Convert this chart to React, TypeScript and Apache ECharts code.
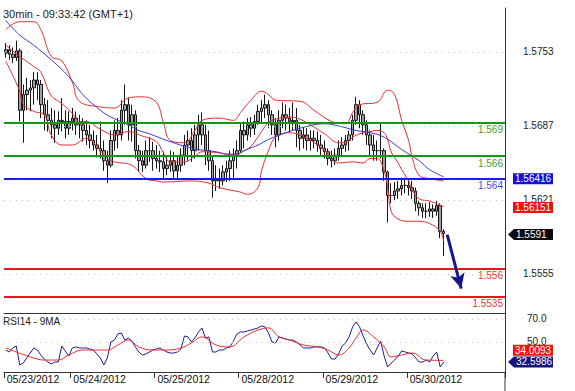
import React, { useEffect, useRef } from 'react';
import * as echarts from 'echarts';

const chartTitle = '30min - 09:33:42 (GMT+1)';
const rsiTitle = 'RSI14 - 9MA';

const dayLabels = ['05/23/2012', '05/24/2012', '05/25/2012', '05/28/2012', '05/29/2012', '05/30/2012'];
const dayStartIndex = [0, 19, 43, 67, 91, 115];
const slotCount = 143;

const opens = [1.5752,1.5755,1.5751,1.5748,1.5754,1.5701,1.5715,1.5719,1.5721,1.5728,
 1.5724,1.5706,1.5697,1.5692,1.5688,1.5685,1.5692,1.5691,1.5685,1.5691,
 1.5694,1.5688,1.5688,1.5683,1.5679,1.5674,1.5670,1.5667,1.5665,1.5656,
 1.5652,1.5674,1.5683,1.5679,1.5701,1.5706,1.5688,1.5697,1.5665,1.5656,
 1.5652,1.5665,1.5665,1.5658,1.5656,1.5655,1.5649,1.5652,1.5656,1.5647,
 1.5652,1.5661,1.5670,1.5674,1.5665,1.5679,1.5688,1.5679,1.5665,1.5656,
 1.5638,1.5640,1.5638,1.5646,1.5649,1.5656,1.5661,1.5665,1.5683,1.5679,
 1.5688,1.5685,1.5691,1.5700,1.5703,1.5706,1.5697,1.5688,1.5679,1.5692,
 1.5697,1.5694,1.5691,1.5692,1.5683,1.5676,1.5679,1.5674,1.5676,1.5674,
 1.5670,1.5667,1.5664,1.5658,1.5656,1.5661,1.5667,1.5670,1.5674,1.5679,
 1.5692,1.5706,1.5697,1.5688,1.5679,1.5670,1.5665,1.5665,1.5665,1.5646,
 1.5625,1.5625,1.5629,1.5631,1.5634,1.5634,1.5632,1.5629,1.5618,1.5614,
 1.5611,1.5611,1.5613,1.5611,1.5616,1.5593];

const highs = [1.5761,1.5759,1.5757,1.5763,1.5756,1.5724,1.5730,1.5728,1.5735,1.5735,
 1.5728,1.5712,1.5710,1.5703,1.5701,1.5700,1.5712,1.5701,1.5700,1.5703,
 1.5700,1.5697,1.5694,1.5692,1.5688,1.5683,1.5679,1.5691,1.5674,1.5665,
 1.5683,1.5692,1.5694,1.5710,1.5724,1.5712,1.5706,1.5701,1.5670,1.5665,
 1.5674,1.5677,1.5673,1.5670,1.5665,1.5664,1.5661,1.5665,1.5664,1.5661,
 1.5667,1.5679,1.5683,1.5685,1.5688,1.5697,1.5699,1.5688,1.5683,1.5661,
 1.5652,1.5649,1.5652,1.5656,1.5665,1.5667,1.5674,1.5690,1.5691,1.5694,
 1.5695,1.5697,1.5706,1.5710,1.5715,1.5710,1.5701,1.5694,1.5701,1.5708,
 1.5706,1.5703,1.5708,1.5703,1.5688,1.5686,1.5685,1.5683,1.5683,1.5682,
 1.5679,1.5674,1.5667,1.5665,1.5667,1.5674,1.5677,1.5679,1.5683,1.5697,
 1.5713,1.5710,1.5701,1.5692,1.5683,1.5679,1.5674,1.5690,1.5667,1.5647,
 1.5636,1.5637,1.5638,1.5641,1.5641,1.5640,1.5638,1.5632,1.5620,1.5618,
 1.5618,1.5619,1.5617,1.5620,1.5618,1.5595];

const lows = [1.5748,1.5746,1.5743,1.5745,1.5691,1.5672,1.5701,1.5700,1.5706,1.5710,
 1.5694,1.5683,1.5682,1.5676,1.5672,1.5679,1.5682,1.5676,1.5679,1.5683,
 1.5679,1.5676,1.5673,1.5670,1.5667,1.5665,1.5659,1.5658,1.5647,1.5636,
 1.5650,1.5665,1.5667,1.5674,1.5688,1.5674,1.5673,1.5658,1.5646,1.5646,
 1.5649,1.5655,1.5647,1.5649,1.5646,1.5640,1.5643,1.5646,1.5640,1.5640,
 1.5646,1.5652,1.5656,1.5655,1.5658,1.5665,1.5670,1.5652,1.5647,1.5623,
 1.5629,1.5631,1.5634,1.5637,1.5638,1.5640,1.5649,1.5663,1.5667,1.5674,
 1.5677,1.5679,1.5688,1.5690,1.5694,1.5685,1.5679,1.5668,1.5674,1.5685,
 1.5683,1.5681,1.5683,1.5668,1.5665,1.5667,1.5665,1.5665,1.5667,1.5664,
 1.5661,1.5658,1.5652,1.5650,1.5652,1.5656,1.5661,1.5664,1.5665,1.5674,
 1.5688,1.5685,1.5679,1.5670,1.5661,1.5656,1.5656,1.5658,1.5638,1.5601,
 1.5618,1.5620,1.5622,1.5625,1.5627,1.5625,1.5622,1.5611,1.5607,1.5605,
 1.5605,1.5606,1.5605,1.5607,1.5587,1.5571];

const closes = [1.5755,1.5751,1.5748,1.5754,1.5701,1.5715,1.5719,1.5721,1.5728,1.5724,
 1.5706,1.5697,1.5692,1.5688,1.5685,1.5692,1.5691,1.5685,1.5691,1.5694,
 1.5688,1.5688,1.5683,1.5679,1.5674,1.5670,1.5667,1.5665,1.5656,1.5652,
 1.5674,1.5683,1.5679,1.5701,1.5706,1.5688,1.5697,1.5665,1.5656,1.5652,
 1.5665,1.5665,1.5658,1.5656,1.5655,1.5649,1.5652,1.5656,1.5647,1.5652,
 1.5661,1.5670,1.5674,1.5665,1.5679,1.5688,1.5679,1.5665,1.5656,1.5638,
 1.5640,1.5638,1.5646,1.5649,1.5656,1.5661,1.5665,1.5683,1.5679,1.5688,
 1.5685,1.5691,1.5700,1.5703,1.5706,1.5697,1.5688,1.5679,1.5692,1.5697,
 1.5694,1.5691,1.5692,1.5683,1.5676,1.5679,1.5674,1.5676,1.5674,1.5670,
 1.5667,1.5664,1.5658,1.5656,1.5661,1.5667,1.5670,1.5674,1.5679,1.5692,
 1.5706,1.5697,1.5688,1.5679,1.5670,1.5665,1.5665,1.5665,1.5646,1.5625,
 1.5625,1.5629,1.5631,1.5634,1.5634,1.5632,1.5629,1.5618,1.5614,1.5611,
 1.5611,1.5613,1.5611,1.5616,1.5593,1.5591];

const upperBand = [[0,1.5773],[4,1.5780],[8,1.5780],[10,1.5773],[13,1.5749],[16,1.5745],[19,1.5726],[21,1.5709],[27,1.5704],[31,1.5703],[35,1.5712],[39,1.5713],[43,1.5708],[45,1.5690],[47,1.5674],[51,1.5672],[54,1.5683],[56,1.5692],[61,1.5694],[65,1.5692],[67,1.5699],[70,1.5710],[73,1.5718],[75,1.5715],[77,1.5710],[84,1.5709],[88,1.5701],[93,1.5691],[97,1.5689],[99,1.5699],[101,1.5706],[106,1.5708],[109,1.5719],[111,1.5715],[113,1.5692],[115,1.5674],[116,1.5659],[118,1.5643],[121,1.5640],[125,1.5638]];

const middleBand = [[0,1.5759],[4,1.5749],[8,1.5740],[10,1.5735],[13,1.5714],[16,1.5707],[19,1.5698],[21,1.5691],[23,1.5691],[27,1.5684],[31,1.5679],[35,1.5682],[39,1.5678],[43,1.5673],[45,1.5663],[47,1.5655],[51,1.5655],[54,1.5660],[56,1.5664],[61,1.5663],[65,1.5661],[67,1.5663],[70,1.5669],[73,1.5682],[75,1.5690],[77,1.5693],[81,1.5695],[84,1.5693],[88,1.5686],[91,1.5680],[95,1.5672],[97,1.5672],[99,1.5677],[101,1.5680],[104,1.5682],[106,1.5683],[108,1.5681],[109,1.5675],[110,1.5664],[112,1.5654],[113,1.5648],[115,1.5638],[116,1.5630],[118,1.5622],[121,1.5620],[125,1.56151]];

const lowerBand = [[0,1.5745],[4,1.5718],[5,1.5706],[8,1.5700],[11,1.5697],[13,1.5679],[16,1.5670],[19,1.5670],[23,1.5676],[27,1.5665],[29,1.5658],[31,1.5655],[36,1.5652],[40,1.5640],[43,1.5638],[45,1.5637],[53,1.5638],[58,1.5636],[61,1.5632],[67,1.5628],[69,1.5626],[72,1.5632],[73,1.5647],[75,1.5665],[77,1.5677],[81,1.5681],[86,1.5676],[91,1.5665],[95,1.5654],[99,1.5655],[102,1.5654],[104,1.5658],[106,1.5658],[108,1.5647],[109,1.5632],[110,1.5611],[112,1.5604],[115,1.5602],[118,1.5602],[121,1.5600],[124,1.5593],[125,1.5584]];

const longMA = [[0,1.5781],[4,1.5768],[8,1.5759],[13,1.5746],[18,1.5731],[22,1.5715],[27,1.5701],[30,1.5695],[35,1.5688],[38,1.5683],[41,1.5680],[46,1.5674],[51,1.5669],[55,1.5666],[60,1.5664],[63,1.5662],[66,1.5662],[68,1.5665],[72,1.5670],[75,1.5675],[80,1.5681],[84,1.5685],[91,1.5689],[95,1.5687],[100,1.5683],[104,1.5681],[108,1.5677],[113,1.5666],[118,1.5656],[121,1.5648],[125,1.56416]];

const rsiValues = [43.0,41.3,44.8,46.5,30.0,31.7,36.1,40.4,44.8,43.0,
 38.7,35.2,32.6,30.9,32.6,32.6,46.5,42.2,37.8,44.8,
 45.7,44.8,44.8,44.8,43.9,43.0,39.6,36.1,30.0,36.1,
 50.0,51.7,57.0,57.8,51.7,53.5,50.9,45.7,41.3,38.7,
 39.6,41.3,43.0,43.9,44.8,43.0,41.3,40.4,40.4,41.3,
 43.9,55.2,54.4,50.0,53.5,58.7,62.2,53.5,54.4,41.3,
 41.3,43.0,43.0,44.8,45.7,50.9,57.0,58.7,58.7,59.6,
 60.4,61.3,62.2,63.9,63.1,57.8,50.0,49.1,54.4,53.5,
 52.6,51.7,51.7,50.0,47.4,44.8,44.8,44.8,45.7,45.7,
 45.7,44.8,40.4,35.2,35.2,39.6,46.5,49.1,54.4,63.1,
 67.4,63.1,55.2,48.3,43.0,38.7,44.8,50.9,37.8,28.3,
 31.7,34.3,37.8,42.2,41.3,40.4,39.6,36.1,32.6,32.6,
 34.3,32.6,37.8,41.3,28.3,32.5986];

const rsiMA = [[0,44.8],[3,41.3],[7,37.0],[11,34.3],[15,34.3],[18,38.7],[22,43.0],[26,43.0],[29,43.0],[32,47.4],[35,51.7],[38,45.7],[42,43.0],[46,43.0],[50,44.8],[53,49.1],[56,54.4],[60,47.4],[64,45.7],[68,54.4],[72,60.4],[75,62.2],[78,54.4],[81,51.7],[85,47.4],[89,45.7],[92,43.0],[95,38.7],[98,44.8],[100,53.5],[102,60.4],[105,54.4],[108,45.7],[110,37.0],[113,38.7],[116,40.4],[120,34.3],[125,34.0093]];

const priceTicks = [1.5555, 1.5621, 1.5687, 1.5753];
const rsiTicks = [50, 70];
const levelValues = [1.569, 1.566, 1.564, 1.556, 1.5535];
const levelLabels = ['1.569', '1.566', '1.564', '1.556', '1.5535'];
const arrowStart = [126, 1.5590];
const arrowEnd = [130, 1.5542];

const lastMA = '1.56416';
const lastMid = '1.56151';
const lastClose = '1.5591';
const lastRsiMA = '34.0093';
const lastRsi = '32.5986';

const FONT = 'Liberation Sans, Arial, sans-serif';
const levelLineColors = ['#139a13', '#139a13', '#1a1aee', '#e41b1b', '#e41b1b'];
const levelTextColors = ['#3a9e3a', '#3a9e3a', '#3a4fdc', '#e23a3a', '#e23a3a'];

export default function App() {
  const ref = useRef<HTMLDivElement>(null);
  useEffect(() => {
    const chart = echarts.init(ref.current!, null, { renderer: 'svg' });
    const categories = Array.from({ length: slotCount }, (_, i) => String(i));
    const isDay = (i: number) => dayStartIndex.indexOf(i) >= 0;
    const dotted = { color: '#c4c4c4', width: 1, type: [1, 5] as any };
    const bandStyle = { color: '#ec2b2b', width: 1 };

    const option: any = {
      animation: false,
      backgroundColor: '#ffffff',
      textStyle: { fontFamily: FONT },
      title: [
        { text: chartTitle, left: 3, top: 8, padding: 0, textStyle: { fontSize: 11, fontWeight: 'normal', color: '#222', fontFamily: FONT } },
        { text: rsiTitle, left: 3, top: 316, padding: 0, textStyle: { fontSize: 10, fontWeight: 'normal', color: '#222', fontFamily: FONT } },
      ],
      grid: [
        { left: 4, right: 70, top: 8, height: 305 },
        { left: 4, right: 70, top: 313, height: 59 },
      ],
      xAxis: [
        {
          type: 'category', gridIndex: 0, data: categories, boundaryGap: true,
          axisLine: { show: true, lineStyle: { color: '#333', width: 1 } },
          axisTick: { show: false }, axisLabel: { show: false }, splitLine: { show: false },
        },
        {
          type: 'category', gridIndex: 1, data: categories, boundaryGap: true,
          axisLine: { show: true, lineStyle: { color: '#333', width: 1 } },
          axisTick: { show: true, interval: (i: number) => isDay(i), length: 6, lineStyle: { color: '#333' } },
          axisLabel: {
            show: true, interval: (i: number) => isDay(i),
            formatter: (_v: string, i: number) => dayLabels[dayStartIndex.indexOf(i)] || '',
            align: 'left', margin: 1, padding: [0, 0, 0, 1], fontSize: 10.5, color: '#111', fontFamily: FONT,
          },
          splitLine: { show: false },
        },
      ],
      yAxis: [
        {
          type: 'value', gridIndex: 0, position: 'right', min: 1.55202, max: 1.57922, scale: true,
          axisLine: { show: true, lineStyle: { color: '#333', width: 1 } },
          axisTick: { show: false }, splitLine: { show: false },
          axisLabel: { customValues: priceTicks, formatter: (v: number) => v.toFixed(4), margin: 18, fontSize: 10, color: '#222', fontFamily: FONT },
        },
        {
          type: 'value', gridIndex: 1, position: 'right', min: 23.9, max: 75.2, scale: true,
          axisLine: { show: true, lineStyle: { color: '#333', width: 1 } },
          axisTick: { show: false }, splitLine: { show: false },
          axisLabel: { customValues: rsiTicks, formatter: (v: number) => v.toFixed(1), margin: 22, fontSize: 10, color: '#222', fontFamily: FONT },
        },
      ],
      series: [
        {
          type: 'candlestick', xAxisIndex: 0, yAxisIndex: 0, barWidth: 3,
          data: opens.map((o, i) => [o, closes[i], lows[i], highs[i]]),
          itemStyle: { color: '#a2a2a2', color0: '#a2a2a2', borderColor: '#161616', borderColor0: '#161616', borderWidth: 1 },
          markLine: {
            silent: true, symbol: 'none', animation: false, precision: 6,
            label: { show: false },
            data: priceTicks.map((v) => ({ yAxis: v, lineStyle: dotted })),
          },
        },
        { type: 'line', name: 'upper', xAxisIndex: 0, yAxisIndex: 0, data: upperBand, smooth: 0.4, showSymbol: false, lineStyle: bandStyle, itemStyle: { color: '#ec2b2b' } },
        { type: 'line', name: 'middle', xAxisIndex: 0, yAxisIndex: 0, data: middleBand, smooth: 0.4, showSymbol: false, lineStyle: bandStyle, itemStyle: { color: '#ec2b2b' } },
        { type: 'line', name: 'lower', xAxisIndex: 0, yAxisIndex: 0, data: lowerBand, smooth: 0.4, showSymbol: false, lineStyle: bandStyle, itemStyle: { color: '#ec2b2b' } },
        {
          type: 'line', name: 'ma', xAxisIndex: 0, yAxisIndex: 0, data: longMA, smooth: 0.4, showSymbol: false,
          lineStyle: { color: '#3b3bd6', width: 1 }, itemStyle: { color: '#3b3bd6' },
          markLine: {
            silent: true, symbol: 'none', animation: false, precision: 6,
            data: [
              ...levelValues.map((v, k) => ({
                yAxis: v,
                lineStyle: { color: levelLineColors[k], width: 2, type: 'solid' },
                label: { show: true, formatter: levelLabels[k], position: 'insideEndBottom', distance: [2, 2], color: levelTextColors[k], fontSize: 10, fontFamily: FONT },
              })),
              [
                { coord: arrowStart, symbol: 'none', lineStyle: { color: '#15158c', width: 3, type: 'solid', curveness: 0.08 }, label: { show: false } },
                { coord: arrowEnd, symbol: 'arrow', symbolSize: [11, 15] },
              ],
            ],
          },
        },
        {
          type: 'line', name: 'rsi', xAxisIndex: 1, yAxisIndex: 1, data: rsiValues, showSymbol: false,
          lineStyle: { color: '#1c1c96', width: 1 }, itemStyle: { color: '#1c1c96' },
          markLine: {
            silent: true, symbol: 'none', animation: false, precision: 4, label: { show: false },
            data: rsiTicks.map((v) => ({ yAxis: v, lineStyle: dotted })),
          },
        },
        {
          type: 'line', name: 'rsima', xAxisIndex: 1, yAxisIndex: 1, data: rsiMA, smooth: 0.4, showSymbol: false,
          lineStyle: { color: '#ec2b2b', width: 1 }, itemStyle: { color: '#ec2b2b' },
        },
      ],
    };
    chart.setOption(option);

    const py = (v: number) => chart.convertToPixel({ yAxisIndex: 0 }, v) as number;
    const ry = (v: number) => chart.convertToPixel({ yAxisIndex: 1 }, v) as number;
    const axisX = 505;
    const textStyle = (text: string) => ({ text, fill: '#ffffff', fontSize: 10, fontFamily: FONT, verticalAlign: 'middle', align: 'left' });
    const boxTag = (y: number, text: string, bg: string) => [
      { type: 'rect', z: 100, shape: { x: axisX + 8, y: y - 5.5, width: 40, height: 11 }, style: { fill: bg } },
      { type: 'text', z: 101, x: axisX + 10, y, style: textStyle(text) },
    ];
    const arrowTag = (y: number, text: string, bg: string) => [
      { type: 'polygon', z: 100, shape: { points: [[axisX + 3, y], [axisX + 9, y - 5.5], [axisX + 48, y - 5.5], [axisX + 48, y + 5.5], [axisX + 9, y + 5.5]] }, style: { fill: bg } },
      { type: 'text', z: 101, x: axisX + 11, y, style: textStyle(text) },
    ];
    chart.setOption({
      graphic: [
        { type: 'line', shape: { x1: axisX, y1: 372, x2: axisX, y2: 391 }, style: { stroke: '#333', lineWidth: 1 } },
        ...boxTag(py(parseFloat(lastMA)) + 2, lastMA, '#1010d8'),
        ...boxTag(py(parseFloat(lastMid)) + 1, lastMid, '#f01010'),
        ...arrowTag(py(parseFloat(lastClose)) + 1, lastClose, '#0a0a0a'),
        ...boxTag(ry(parseFloat(lastRsiMA)) - 10, lastRsiMA, '#f01010'),
        ...arrowTag(ry(parseFloat(lastRsi)), lastRsi, '#14147e'),
      ],
    });
    return () => chart.dispose();
  }, []);
  return <div ref={ref} style={{ position: 'fixed', left: 0, top: 0, width: 575, height: 391, background: '#fff' }} />;
}
